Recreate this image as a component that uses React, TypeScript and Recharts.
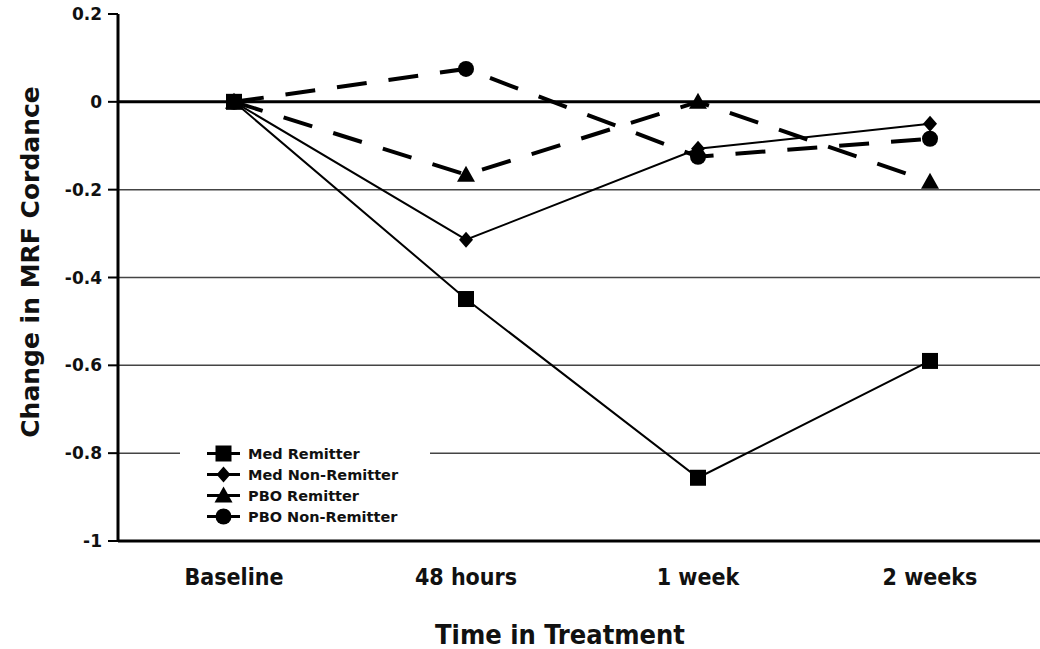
import React from 'react';
import { LineChart, Line, XAxis, YAxis, ReferenceLine, Legend, Label } from 'recharts';

const categories = ['Baseline', '48 hours', '1 week', '2 weeks'];
const medRemitter = [0, -0.449, -0.856, -0.59];
const medNonRemitter = [0, -0.314, -0.107, -0.05];
const pboRemitter = [0, -0.166, 0.0, -0.182];
const pboNonRemitter = [0, 0.075, -0.125, -0.084];
const yTicks = [0.2, 0, -0.2, -0.4, -0.6, -0.8, -1];
const gridValues = [-0.2, -0.4, -0.6, -0.8];
const seriesNames = ['Med Remitter', 'Med Non-Remitter', 'PBO Remitter', 'PBO Non-Remitter'];
const seriesKeys = ['medR', 'medNR', 'pboR', 'pboNR'];
const seriesShapes = ['square', 'diamond', 'triangle', 'circle'];

const data = categories.map((c, i) => ({
  name: c,
  medR: medRemitter[i],
  medNR: medNonRemitter[i],
  pboR: pboRemitter[i],
  pboNR: pboNonRemitter[i],
}));

const FONT = '"DejaVu Sans", Verdana, sans-serif';
const FONT_COND = '"DejaVu Sans Condensed", "DejaVu Sans", sans-serif';

function markerShape(kind: string, cx: number, cy: number, key?: string) {
  if (kind === 'square') return <rect key={key} x={cx - 8} y={cy - 8} width={16} height={16} fill="#000" />;
  if (kind === 'diamond')
    return <polygon key={key} points={`${cx},${cy - 8} ${cx + 7},${cy} ${cx},${cy + 8} ${cx - 7},${cy}`} fill="#000" />;
  if (kind === 'triangle')
    return <polygon key={key} points={`${cx},${cy - 9} ${cx + 9},${cy + 7} ${cx - 9},${cy + 7}`} fill="#000" />;
  return <circle key={key} cx={cx} cy={cy} r={8} fill="#000" />;
}

const makeDot = (kind: string) => (props: any) => {
  const { cx, cy, index } = props;
  if (cx == null || cy == null) return <g key={`${kind}-${index}`} />;
  return markerShape(kind, cx, cy, `${kind}-${index}`);
};

const renderLegend = () => (
  <div
    style={{
      background: '#fff',
      width: 250,
      fontFamily: FONT,
      fontWeight: 'bold',
      fontSize: 14.5,
      color: '#111',
    }}
  >
    {seriesNames.map((n, i) => (
      <div key={n} style={{ display: 'flex', alignItems: 'center', height: 21 }}>
        <svg width={60} height={21} style={{ display: 'block' }}>
          <line x1={27} x2={60} y1={10.5} y2={10.5} stroke="#000" strokeWidth={3} />
          {markerShape(seriesShapes[i], 43.5, 10.5)}
        </svg>
        <span style={{ marginLeft: 8, whiteSpace: 'nowrap' }}>{n}</span>
      </div>
    ))}
  </div>
);

const YTitle = () => (
  <text
    x={30}
    y={262}
    transform="rotate(-90, 30, 262)"
    textAnchor="middle"
    dominantBaseline="central"
    fontFamily={FONT}
    fontWeight="bold"
    fontSize={25}
    fill="#111"
  >
    Change in MRF Cordance
  </text>
);

const XTitle = () => (
  <text x={560} y={644} textAnchor="middle" fontFamily={FONT_COND} fontWeight="bold" fontSize={27} fill="#111">
    Time in Treatment
  </text>
);

export default function App() {
  const order = [3, 2, 1, 0];
  return (
    <div style={{ position: 'fixed', left: 0, top: 0, width: 1040, height: 649, overflow: 'hidden', background: '#fff' }}>
      <LineChart width={1046} height={649} data={data} margin={{ top: 14, right: 0, bottom: 48, left: 0 }}>
        <XAxis
          dataKey="name"
          height={60}
          padding={{ left: 116, right: 116 }}
          axisLine={{ stroke: '#000', strokeWidth: 3 }}
          tickLine={false}
          tickSize={0}
          tickMargin={28}
          tick={{ fontFamily: FONT_COND, fontWeight: 'bold', fontSize: 23, fill: '#111' }}
        >
          <Label content={XTitle} />
        </XAxis>
        <YAxis
          type="number"
          domain={[-1, 0.2]}
          ticks={yTicks}
          interval={0}
          width={118}
          axisLine={{ stroke: '#000', strokeWidth: 3 }}
          tickLine={{ stroke: '#000', strokeWidth: 2 }}
          tickSize={10}
          tickMargin={6}
          tick={{ fontFamily: FONT, fontWeight: 'bold', fontSize: 17, fill: '#111' }}
        >
          <Label content={YTitle} />
        </YAxis>
        {gridValues.map((v) => (
          <ReferenceLine key={v} y={v} stroke="#444" strokeWidth={1.5} />
        ))}
        <ReferenceLine y={0} stroke="#000" strokeWidth={3} />
        {order.map((i) => (
          <Line
            key={seriesKeys[i]}
            dataKey={seriesKeys[i]}
            name={seriesNames[i]}
            type="linear"
            stroke="#000"
            strokeWidth={i < 2 ? 2 : 4}
            strokeDasharray={i < 2 ? undefined : '30 22'}
            dot={makeDot(seriesShapes[i])}
            activeDot={false}
            isAnimationActive={false}
          />
        ))}
        <Legend
          layout="vertical"
          align="center"
          verticalAlign="middle"
          content={renderLegend}
          wrapperStyle={{ left: 180, top: 443, width: 250 }}
        />
      </LineChart>
    </div>
  );
}
